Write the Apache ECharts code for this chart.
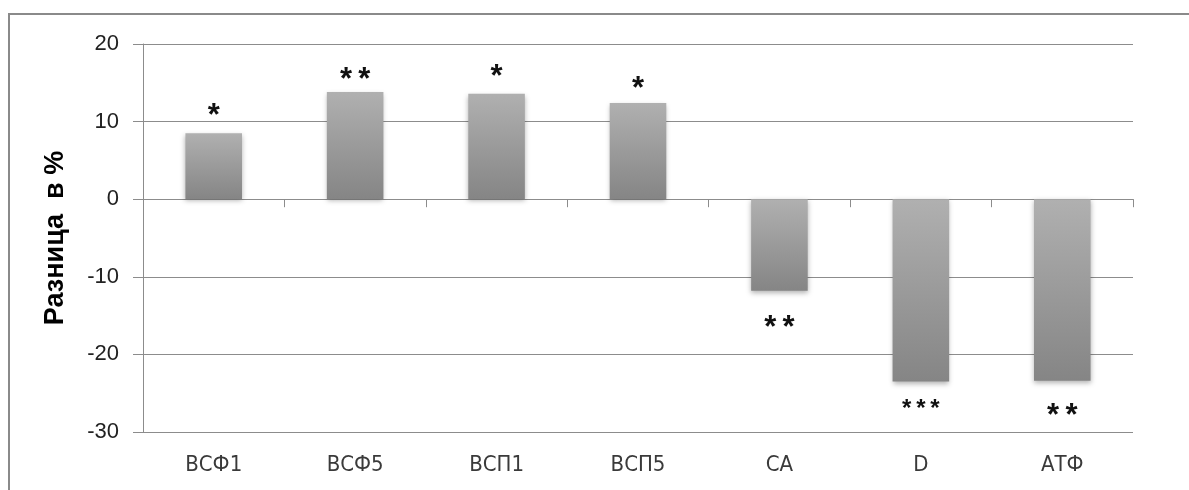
<!DOCTYPE html>
<html><head><meta charset="utf-8">
<script src="https://cdn.jsdelivr.net/npm/echarts@6/dist/echarts.min.js"></script>
<style>html,body{margin:0;padding:0;background:#fff}#c{width:1189px;height:490px}</style>
</head><body><div id="c"></div>
<script>
const categories = ['ВСФ1','ВСФ5','ВСП1','ВСП5','СА','D','АТФ'];
const values = [8.5, 13.8, 13.6, 12.4, -11.8, -23.5, -23.4];
const stars = ['*','**','*','*','**','***','**'];
const yTicks = {min:-30, max:20, interval:10};

// label styling (not data)
const labelGap = [1, -4, 1, -2, 22, 16, 20];
const labelSize = [31, 31, 31, 31, 31, 24, 31];

const chart = echarts.init(document.getElementById('c'));
const data = values.map((v,i)=>({
  value: v,
  label: {
    show: true,
    position: v >= 0 ? 'top' : 'bottom',
    distance: labelGap[i],
    formatter: stars[i].split('').join('\u2009'),
    fontSize: labelSize[i],
    fontWeight: 'bold',
    fontFamily: 'Liberation Sans',
    color: '#111'
  }
}));
chart.setOption({
  animation: false,
  graphic: [{
    type: 'polyline',
    shape: {points: [[9,495],[9,14],[1195,14]]},
    style: {stroke: '#8a8a8a', lineWidth: 2, fill: null}
  }],
  grid: {left: 143, right: 56, top: 44, bottom: 58},
  xAxis: [{
    type: 'category',
    data: categories,
    axisLine: {onZero: true, lineStyle: {color: '#8c8c8c', width: 1}},
    axisTick: {show: true, length: 8, lineStyle: {color: '#8c8c8c'}},
    axisLabel: {show: false}
  }, {
    type: 'category', data: categories, position: 'bottom',
    axisLine: {show: false}, axisTick: {show: false},
    axisLabel: {show: true, margin: 22, fontSize: 22, color: '#3a3a3a', fontFamily: 'DejaVu Sans Condensed, Liberation Sans, sans-serif'}
  }],
  yAxis: [{
    type: 'value',
    min: yTicks.min, max: yTicks.max, interval: yTicks.interval,
    name: 'Разница  в %',
    nameLocation: 'middle',
    nameGap: 74,
    nameTextStyle: {fontSize: 27, fontWeight: 'bold', color: '#000', fontFamily: 'Liberation Sans'},
    axisLine: {show: true, lineStyle: {color: '#8c8c8c'}},
    axisTick: {show: true, length: 10, lineStyle: {color: '#8c8c8c'}},
    axisLabel: {fontSize: 22, color: '#222', margin: 24, fontFamily: 'Liberation Sans'},
    splitLine: {show: true, lineStyle: {color: '#8c8c8c', width: 1}}
  }],
  series: [{
    type: 'bar',
    barWidth: '40%',
    data: data,
    itemStyle: {
      color: new echarts.graphic.LinearGradient(0,0,0,1,[{offset:0,color:'#b0b0b0'},{offset:1,color:'#858585'}]),
      shadowBlur: 5, shadowColor: 'rgba(0,0,0,0.3)', shadowOffsetY: 2
    }
  }]
});
</script></body></html>
